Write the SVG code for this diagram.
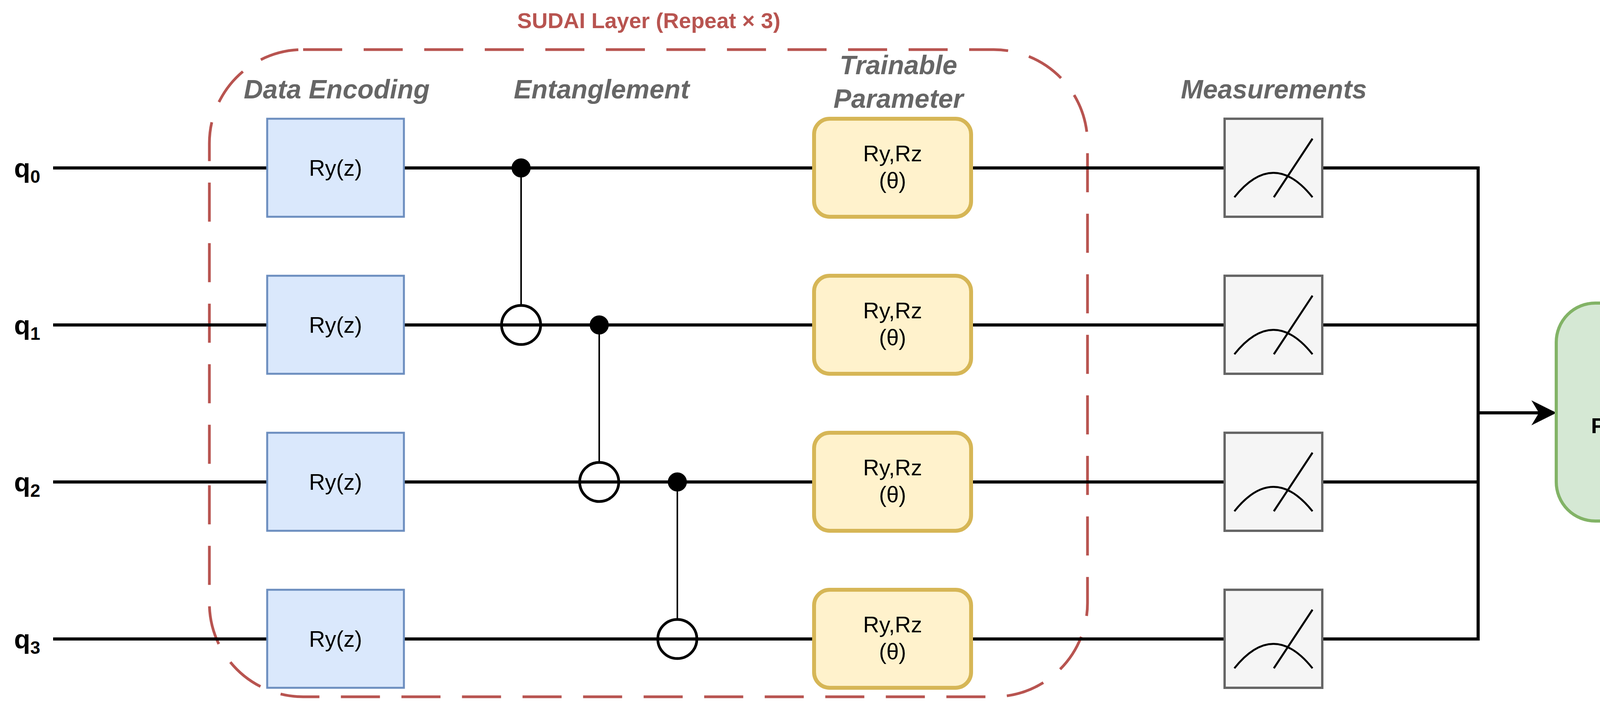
<svg xmlns="http://www.w3.org/2000/svg" width="5066" height="1846" viewBox="0 0 5066 1846">
<defs>
<style>
.w{stroke:#000;stroke-width:8;fill:none}
.enc{fill:#dae8fc;stroke:#6c8ebf;stroke-width:5}
.tr{fill:#fff2cc;stroke:#d6b656;stroke-width:10}
.ms{fill:#f5f5f5;stroke:#666;stroke-width:6}
.t{font-family:"Liberation Sans",Arial,sans-serif;text-anchor:middle}
.g{font-size:57px;fill:#000}
.h{font-size:68px;font-weight:bold;font-style:italic;fill:#666}
.q{font-family:"Liberation Sans",Arial,sans-serif;font-weight:bold;font-size:68px}
</style>
<marker id="ah" viewBox="0 0 10 10" refX="9" refY="5" markerWidth="6" markerHeight="6" orient="auto" markerUnits="userSpaceOnUse">
<path d="M0,0 L10,5 L0,10 L3,5 Z" fill="#000"/>
</marker>
<marker id="big" viewBox="0 0 10 10" refX="9" refY="5" markerWidth="8" markerHeight="8" orient="auto">
<path d="M0,0 L10,5 L0,10 L3,5 Z" fill="#000"/>
</marker>
</defs>
<rect width="5066" height="1846" fill="#fff"/>
<g id="layer">
<rect x="536" y="127" width="2248" height="1657" rx="240" fill="none" stroke="#b85450" stroke-width="7" stroke-dasharray="100,55"/>
<text class="t" x="1661" y="72" font-size="56" font-weight="bold" fill="#b85450">SUDAI Layer (Repeat × 3)</text>
</g>
<g id="connectors">
<path class="w" d="M136,430H684M1034,430H2084M2486,430H3135M3385,430H3784"/>
<path class="w" d="M136,832H684M1034,832H2084M2486,832H3135M3385,832H3784"/>
<path class="w" d="M136,1234H684M1034,1234H2084M2486,1234H3135M3385,1234H3784"/>
<path class="w" d="M136,1636H684M1034,1636H2084M2486,1636H3135M3385,1636H3784"/>
<path class="w" d="M3784,426V1640"/>
<path class="w" d="M3784,1057H3978" marker-end="url(#big)"/>
<path class="w" d="M4576,1049L4995,1045" marker-end="url(#big)"/>
</g>
<g id="labels">
<text class="h t" x="862" y="252">Data Encoding</text>
<text class="h t" x="1540" y="252">Entanglement</text>
<text class="h t" x="2300" y="190">Trainable</text>
<text class="h t" x="2300" y="276">Parameter</text>
<text class="h t" x="3261" y="252">Measurements</text>
<text class="q" x="36" y="454">q<tspan font-size="46" dy="14">0</tspan></text>
<text class="q" x="36" y="856">q<tspan font-size="46" dy="14">1</tspan></text>
<text class="q" x="36" y="1258">q<tspan font-size="46" dy="14">2</tspan></text>
<text class="q" x="36" y="1660">q<tspan font-size="46" dy="14">3</tspan></text>
</g>
<g id="enc0"><rect class="enc" x="684" y="304" width="350" height="251"/><text class="t g" x="859" y="450">Ry(z)</text></g>
<g id="enc1"><rect class="enc" x="684" y="706" width="350" height="251"/><text class="t g" x="859" y="852">Ry(z)</text></g>
<g id="enc2"><rect class="enc" x="684" y="1108" width="350" height="251"/><text class="t g" x="859" y="1254">Ry(z)</text></g>
<g id="enc3"><rect class="enc" x="684" y="1510" width="350" height="251"/><text class="t g" x="859" y="1656">Ry(z)</text></g>
<g id="cnot01" stroke="#000"><line x1="1334" y1="430" x2="1334" y2="782" stroke-width="4"/><circle cx="1334" cy="430" r="24" fill="#000"/><circle cx="1334" cy="832" r="50" fill="none" stroke-width="7"/></g>
<g id="cnot12" stroke="#000"><line x1="1534" y1="832" x2="1534" y2="1184" stroke-width="4"/><circle cx="1534" cy="832" r="24" fill="#000"/><circle cx="1534" cy="1234" r="50" fill="none" stroke-width="7"/></g>
<g id="cnot23" stroke="#000"><line x1="1734" y1="1234" x2="1734" y2="1586" stroke-width="4"/><circle cx="1734" cy="1234" r="24" fill="#000"/><circle cx="1734" cy="1636" r="50" fill="none" stroke-width="7"/></g>
<g id="tr0"><rect class="tr" x="2084" y="304" width="402" height="251" rx="40"/><text class="t g" x="2285" y="413">Ry,Rz</text><text class="t g" x="2285" y="482">(θ)</text></g>
<g id="tr1"><rect class="tr" x="2084" y="706" width="402" height="251" rx="40"/><text class="t g" x="2285" y="815">Ry,Rz</text><text class="t g" x="2285" y="884">(θ)</text></g>
<g id="tr2"><rect class="tr" x="2084" y="1108" width="402" height="251" rx="40"/><text class="t g" x="2285" y="1217">Ry,Rz</text><text class="t g" x="2285" y="1286">(θ)</text></g>
<g id="tr3"><rect class="tr" x="2084" y="1510" width="402" height="251" rx="40"/><text class="t g" x="2285" y="1619">Ry,Rz</text><text class="t g" x="2285" y="1688">(θ)</text></g>
<g id="m0"><rect class="ms" x="3135" y="304" width="250" height="251"/><path d="M3160,505Q3260,380 3360,505" fill="none" stroke="#000" stroke-width="5"/><line x1="3261" y1="505" x2="3360" y2="355" stroke="#000" stroke-width="5" marker-end="url(#ah)"/></g>
<g id="m1"><rect class="ms" x="3135" y="706" width="250" height="251"/><path d="M3160,907Q3260,782 3360,907" fill="none" stroke="#000" stroke-width="5"/><line x1="3261" y1="907" x2="3360" y2="757" stroke="#000" stroke-width="5" marker-end="url(#ah)"/></g>
<g id="m2"><rect class="ms" x="3135" y="1108" width="250" height="251"/><path d="M3160,1309Q3260,1184 3360,1309" fill="none" stroke="#000" stroke-width="5"/><line x1="3261" y1="1309" x2="3360" y2="1159" stroke="#000" stroke-width="5" marker-end="url(#ah)"/></g>
<g id="m3"><rect class="ms" x="3135" y="1510" width="250" height="251"/><path d="M3160,1711Q3260,1586 3360,1711" fill="none" stroke="#000" stroke-width="5"/><line x1="3261" y1="1711" x2="3360" y2="1561" stroke="#000" stroke-width="5" marker-end="url(#ah)"/></g>
<g id="post"><rect x="3984" y="776" width="592" height="558" rx="100" fill="#d5e8d4" stroke="#82b366" stroke-width="8"/><text class="t" x="4280" y="1038" font-size="56" font-weight="bold">Classical</text><text class="t" x="4280" y="1109" font-size="56" font-weight="bold">Post-Processor</text></g>
<g id="out"><text class="t" x="4824" y="905" font-size="64" font-weight="bold" fill="#666">To Classical</text><text class="t" x="4824" y="988" font-size="64" font-weight="bold" fill="#666">Discriminator</text></g>
</svg>
